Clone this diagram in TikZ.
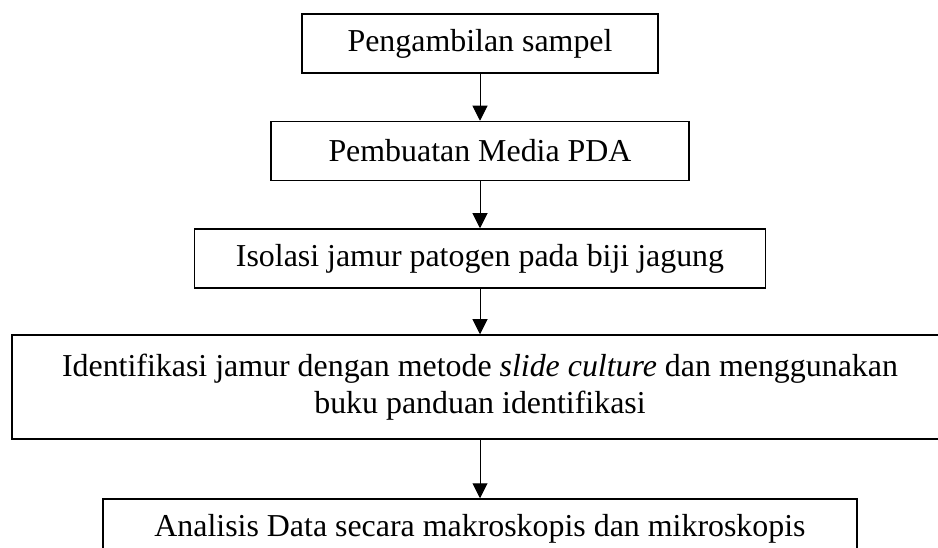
\documentclass[tikz,border=0pt]{standalone}
\usepackage{fontspec}
\setmainfont{Liberation Serif}
\usepackage{tikz}
\usetikzlibrary{arrows.meta, positioning}
\tikzset{
  stepbox/.style={draw,line width=1.5pt,inner sep=0pt,minimum height=59pt,
    font=\fontsize{31.9}{36.6}\selectfont,align=center},
  flowarrow/.style={-{Triangle[length=15pt,width=15pt]},line width=1pt},
}
\begin{document}
\begin{tikzpicture}[x=1pt,y=1pt]
  \useasboundingbox (0,0) rectangle (938,-548);
  \clip (0,0) rectangle (938,-548);
  \node[stepbox,minimum width=356pt] (ambil) at (480,-43.5) {Pengambilan sampel};
  \node[stepbox,minimum width=418pt] (media) at (480,-151) {Pembuatan Media PDA};
  \node[stepbox,minimum width=571pt] (isolasi) at (480,-258.5) {Isolasi jamur patogen pada biji jagung};
  \node[stepbox,minimum width=936pt,minimum height=104pt] (identif) at (480,-387)
    {Identifikasi jamur dengan metode \textit{slide culture} dan menggunakan\\buku panduan identifikasi};
  \node[stepbox,minimum width=754pt] (analisis) at (480,-528.5) {Analisis Data secara makroskopis dan mikroskopis};
  \draw[flowarrow] (ambil) -- (media);
  \draw[flowarrow] (media) -- (isolasi);
  \draw[flowarrow] (isolasi) -- (identif);
  \draw[flowarrow] (identif) -- (analisis);
\end{tikzpicture}
\end{document}
